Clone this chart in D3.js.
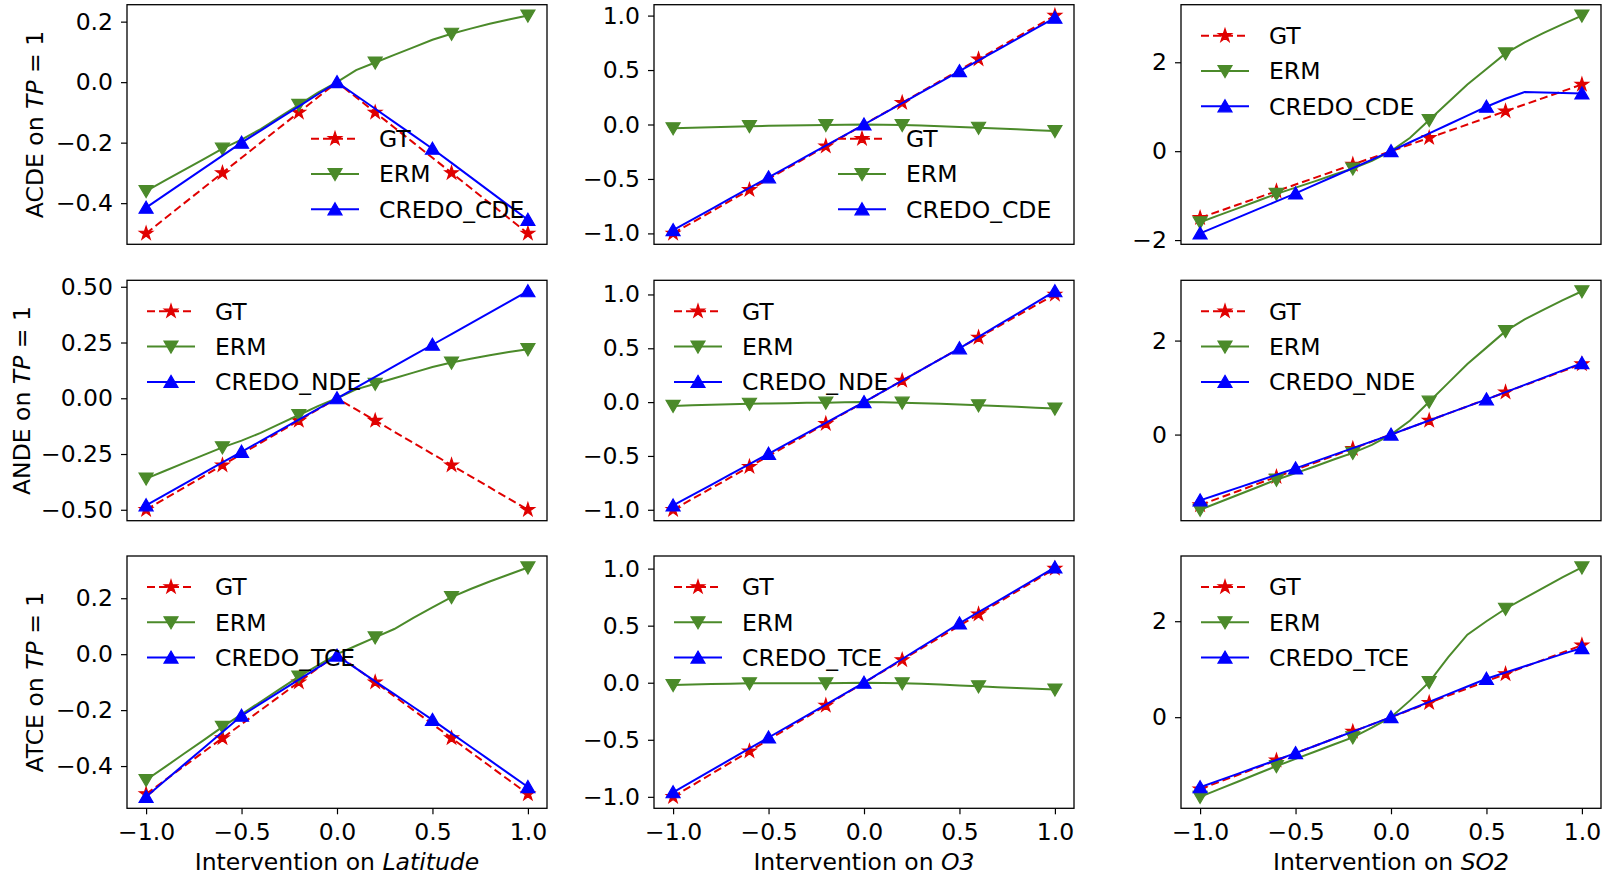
<!DOCTYPE html>
<html>
<head>
<meta charset="utf-8">
<script src="https://cdn.jsdelivr.net/npm/d3@7/dist/d3.min.js"></script>
<style>
body { margin: 0; background: #fff; }
svg text { font-family: "DejaVu Sans", sans-serif; }
</style>
</head>
<body>
<div id="chart"></div>
<script>
// intervention values (x), same grid for every panel
var xs = [-1.0,-0.9,-0.8,-0.7,-0.6,-0.5,-0.4,-0.3,-0.2,-0.1,0.0,0.1,0.2,0.3,0.4,0.5,0.6,0.7,0.8,0.9,1.0];

// ground truth per intervened variable
var gtLat = [-0.5,-0.45,-0.4,-0.35,-0.3,-0.25,-0.2,-0.15,-0.1,-0.05,0,-0.05,-0.1,-0.15,-0.2,-0.25,-0.3,-0.35,-0.4,-0.45,-0.5];
var gtO3  = [-1.0,-0.9,-0.8,-0.7,-0.6,-0.5,-0.4,-0.3,-0.2,-0.1,0,0.1,0.2,0.3,0.4,0.5,0.6,0.7,0.8,0.9,1.0];
var gtSO2 = [-1.5,-1.35,-1.2,-1.05,-0.9,-0.75,-0.6,-0.45,-0.3,-0.15,0,0.15,0.3,0.45,0.6,0.75,0.9,1.05,1.2,1.35,1.5];

// ERM
var ermCdeLat = [-0.36,-0.325,-0.29,-0.255,-0.22,-0.19,-0.155,-0.115,-0.075,-0.035,0,0.04,0.065,0.09,0.115,0.14,0.16,0.177,0.193,0.207,0.22];
var ermCdeO3  = [-0.035,-0.03,-0.025,-0.02,-0.015,-0.012,-0.01,-0.007,-0.005,-0.002,0,-0.002,-0.005,-0.01,-0.016,-0.022,-0.03,-0.037,-0.044,-0.052,-0.06];
var ermCdeSO2 = [-1.6,-1.44,-1.28,-1.12,-0.96,-0.82,-0.68,-0.53,-0.39,-0.22,0,0.3,0.7,1.1,1.5,1.85,2.2,2.45,2.66,2.86,3.05];
var ermNdeLat = [-0.36,-0.325,-0.29,-0.255,-0.22,-0.19,-0.155,-0.115,-0.075,-0.035,0,0.04,0.065,0.09,0.115,0.14,0.16,0.177,0.193,0.207,0.22];
var ermNdeO3  = [-0.035,-0.03,-0.025,-0.02,-0.015,-0.012,-0.01,-0.007,-0.005,-0.002,0,-0.002,-0.005,-0.01,-0.016,-0.022,-0.03,-0.037,-0.044,-0.052,-0.06];
var ermNdeSO2 = [-1.6,-1.44,-1.28,-1.12,-0.96,-0.82,-0.68,-0.53,-0.39,-0.22,0,0.3,0.7,1.1,1.5,1.85,2.2,2.45,2.66,2.86,3.05];
var ermTceLat = [-0.45,-0.403,-0.355,-0.308,-0.26,-0.215,-0.17,-0.125,-0.08,-0.04,0,0.03,0.06,0.09,0.13,0.167,0.204,0.233,0.26,0.285,0.31];
var ermTceO3  = [-0.02,-0.016,-0.012,-0.008,-0.005,-0.005,-0.005,-0.005,-0.005,-0.003,0,-0.003,-0.005,-0.01,-0.016,-0.024,-0.032,-0.039,-0.046,-0.053,-0.06];
var ermTceSO2 = [-1.66,-1.5,-1.34,-1.18,-1.02,-0.87,-0.72,-0.57,-0.42,-0.22,0,0.35,0.73,1.25,1.72,2.0,2.26,2.48,2.7,2.92,3.12];

// CREDO
var credoCdeLat = [-0.415,-0.372,-0.329,-0.286,-0.243,-0.2,-0.16,-0.12,-0.08,-0.04,0,-0.044,-0.088,-0.132,-0.176,-0.22,-0.267,-0.314,-0.361,-0.408,-0.455];
var credoCdeO3  = [-0.97,-0.873,-0.776,-0.679,-0.582,-0.485,-0.388,-0.291,-0.194,-0.097,0,0.098,0.196,0.294,0.392,0.49,0.588,0.686,0.784,0.882,0.98];
var credoCdeSO2 = [-1.85,-1.67,-1.49,-1.31,-1.13,-0.95,-0.76,-0.57,-0.38,-0.19,0,0.2,0.4,0.6,0.8,1.0,1.18,1.33,1.32,1.31,1.3];
var credoNdeLat = [-0.48,-0.432,-0.384,-0.336,-0.288,-0.24,-0.192,-0.144,-0.096,-0.048,0,0.048,0.096,0.144,0.192,0.24,0.288,0.336,0.384,0.432,0.48];
var credoNdeO3  = [-0.96,-0.864,-0.768,-0.672,-0.576,-0.48,-0.384,-0.288,-0.192,-0.096,0,0.1,0.2,0.3,0.4,0.5,0.606,0.712,0.818,0.924,1.03];
var credoNdeSO2 = [-1.4,-1.264,-1.128,-0.992,-0.856,-0.72,-0.576,-0.432,-0.288,-0.144,0,0.15,0.3,0.45,0.6,0.75,0.904,1.058,1.212,1.366,1.52];
var credoTceLat = [-0.51,-0.452,-0.394,-0.336,-0.278,-0.22,-0.177,-0.134,-0.091,-0.048,-0.005,-0.051,-0.097,-0.143,-0.189,-0.235,-0.283,-0.331,-0.379,-0.427,-0.475];
var credoTceO3  = [-0.96,-0.864,-0.768,-0.672,-0.576,-0.48,-0.384,-0.288,-0.192,-0.096,0,0.104,0.208,0.312,0.416,0.52,0.618,0.716,0.814,0.912,1.01];
var credoTceSO2 = [-1.46,-1.318,-1.176,-1.034,-0.892,-0.75,-0.6,-0.45,-0.3,-0.15,0,0.16,0.32,0.48,0.64,0.8,0.93,1.06,1.19,1.32,1.44];

// labels and ticks
var effects = ["ACDE", "ANDE", "ATCE"];
var methods = ["CREDO_CDE", "CREDO_NDE", "CREDO_TCE"];
var variables = ["Latitude", "O3", "SO2"];
var xTicks = [-1, -0.5, 0, 0.5, 1];
var yTicksLat = [-0.4, -0.2, 0, 0.2];
var yTicksNde = [-0.5, -0.25, 0, 0.25, 0.5];
var yTicksO3 = [-1, -0.5, 0, 0.5, 1];
var yTicksSO2 = [-2, 0, 2];

var attrs = {
    width: 1607,
    height: 877,
    colLeft: [127, 654, 1181],
    colWidth: 420,
    rowTop: [4.7, 280.3, 556],
    rowHeight: [239.6, 240.4, 252.3],
    ylabelX: [-84, -97, -84],
    fontSize: 23.5,
    gtColor: "#e00000",
    ermColor: "#4b8a2a",
    credoColor: "#0000ff"
};

var gtByCol = [gtLat, gtO3, gtSO2];
var ermByRow = [[ermCdeLat, ermCdeO3, ermCdeSO2], [ermNdeLat, ermNdeO3, ermNdeSO2], [ermTceLat, ermTceO3, ermTceSO2]];
var credoByRow = [[credoCdeLat, credoCdeO3, credoCdeSO2], [credoNdeLat, credoNdeO3, credoNdeSO2], [credoTceLat, credoTceO3, credoTceSO2]];
var yTicksByRow = [[yTicksLat, yTicksO3, yTicksSO2], [yTicksNde, yTicksO3, yTicksSO2], [yTicksLat, yTicksO3, yTicksSO2]];

var svg = d3.select("#chart").append("svg")
    .attr("width", attrs.width)
    .attr("height", attrs.height);

for (var r = 0; r < 3; r++) {
    for (var c = 0; c < 3; c++) {
        drawPanel(r, c);
    }
}

function drawPanel(r, c) {
    var w = attrs.colWidth, h = attrs.rowHeight[r];
    var g = svg.append("g")
        .attr("transform", "translate(" + attrs.colLeft[c] + "," + attrs.rowTop[r] + ")");

    var series = [
        {name: "GT", values: gtByCol[c], color: attrs.gtColor, dash: "8,4", marker: "star", every: 4},
        {name: "ERM", values: ermByRow[r][c], color: attrs.ermColor, dash: null, marker: "down", every: 4},
        {name: methods[r], values: credoByRow[r][c], color: attrs.credoColor, dash: null, marker: "up", every: 5}
    ];

    // matplotlib style 5% margins
    var all = d3.merge(series.map(function(s) { return s.values; }));
    var ext = d3.extent(all);
    var pad = (ext[1] - ext[0]) * 0.05;
    var x = d3.scaleLinear().domain([-1.1, 1.1]).range([0, w]);
    var y = d3.scaleLinear().domain([ext[0] - pad, ext[1] + pad]).range([h, 0]);

    // only keep ticks that fall inside the view
    var ticks = yTicksByRow[r][c].filter(function(t) { return t >= y.domain()[0] && t <= y.domain()[1]; });
    var dec = c === 2 ? 0 : (r === 1 && c === 0 ? 2 : 1);
    var yAxis = g.append("g")
        .call(d3.axisLeft(y).tickValues(ticks).tickFormat(d3.format("." + dec + "f")).tickSize(6).tickPadding(8));
    styleAxis(yAxis);

    if (r === 2) {
        var xAxis = g.append("g")
            .attr("transform", "translate(0," + h + ")")
            .call(d3.axisBottom(x).tickValues(xTicks).tickFormat(d3.format(".1f")).tickSize(6).tickPadding(9));
        styleAxis(xAxis);

        var xl = g.append("text")
            .attr("x", w / 2)
            .attr("y", h + 62)
            .attr("text-anchor", "middle")
            .style("font-size", attrs.fontSize + "px");
        xl.append("tspan").text("Intervention on ");
        xl.append("tspan").style("font-style", "italic").text(variables[c]);
    }

    if (c === 0) {
        var yl = g.append("text")
            .attr("transform", "translate(" + attrs.ylabelX[r] + "," + (h / 2) + ") rotate(-90)")
            .attr("text-anchor", "middle")
            .style("font-size", attrs.fontSize + "px");
        yl.append("tspan").text(effects[r] + " on ");
        yl.append("tspan").style("font-style", "italic").text("TP");
        yl.append("tspan").text(" = 1");
    }

    var line = d3.line()
        .x(function(d, i) { return x(xs[i]); })
        .y(function(d) { return y(d); });

    series.forEach(function(s) {
        g.append("path")
            .datum(s.values)
            .attr("d", line)
            .attr("fill", "none")
            .attr("stroke", s.color)
            .attr("stroke-width", 2)
            .attr("stroke-dasharray", s.dash);
        g.selectAll(null)
            .data(s.values.filter(function(d, i) { return i % s.every === 0; }))
            .enter().append("path")
            .attr("d", markerPath(s.marker))
            .attr("transform", function(d, i) { return "translate(" + x(xs[i * s.every]) + "," + y(d) + ")"; })
            .attr("fill", s.color)
            .attr("stroke", s.color)
            .attr("stroke-width", 1.2)
            .attr("stroke-linejoin", "miter");
    });

    // frame
    g.append("rect")
        .attr("width", w)
        .attr("height", h)
        .attr("fill", "none")
        .attr("stroke", "#000")
        .attr("stroke-width", 1.3);

    // legend, no frame; lower right on the first two panels, upper left otherwise
    var lx = 20, ly = 31;
    if (r === 0 && c < 2) { lx = 184; ly = 134; }
    var leg = g.append("g").attr("transform", "translate(" + lx + "," + ly + ")");
    series.forEach(function(s, i) {
        var row = leg.append("g").attr("transform", "translate(0," + (i * 35.3) + ")");
        row.append("line")
            .attr("x1", 0).attr("x2", 48)
            .attr("stroke", s.color)
            .attr("stroke-width", 2)
            .attr("stroke-dasharray", s.dash);
        row.append("path")
            .attr("d", markerPath(s.marker))
            .attr("transform", "translate(24,0)")
            .attr("fill", s.color)
            .attr("stroke", s.color)
            .attr("stroke-width", 1.2);
        row.append("text")
            .attr("x", 68)
            .attr("dy", "0.36em")
            .style("font-size", attrs.fontSize + "px")
            .text(s.name);
    });
}

function styleAxis(a) {
    a.select(".domain").remove();
    a.selectAll(".tick line").attr("stroke", "#000").attr("stroke-width", 1.2);
    a.selectAll(".tick text")
        .attr("fill", "#000")
        .style("font-size", attrs.fontSize + "px")
        .style("font-family", "DejaVu Sans");
}

function markerPath(type) {
    if (type === "up") return "M0,-6.5L7,5.5L-7,5.5Z";
    if (type === "down") return "M0,6.5L-7,-5.5L7,-5.5Z";
    // five point star, inner radius like matplotlib
    var pts = [];
    for (var k = 0; k < 10; k++) {
        var rr = k % 2 === 0 ? 7 : 7 * 0.381966;
        var a = -Math.PI / 2 + k * Math.PI / 5;
        pts.push([rr * Math.cos(a), rr * Math.sin(a)]);
    }
    return "M" + pts.join("L") + "Z";
}
</script>
</body>
</html>
